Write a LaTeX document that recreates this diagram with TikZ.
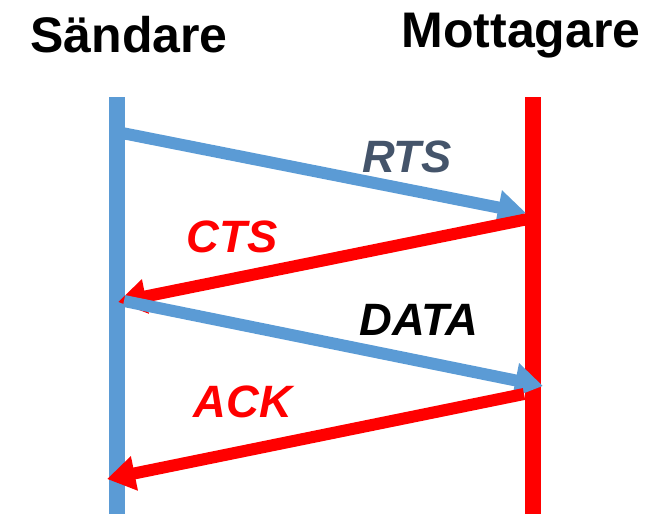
\documentclass[tikz,border=0pt]{standalone}
\usepackage{fontspec}
\setmainfont{Liberation Sans}
\usetikzlibrary{arrows.meta}

\definecolor{sendblue}{RGB}{91,155,213}
\definecolor{recvred}{RGB}{255,0,0}
\definecolor{rtsslate}{RGB}{68,84,106}

\tikzset{every picture/.style={line width=0.75pt}}
\tikzset{
  lifeline/.style={line width=11.5pt},
  msg/.style={line width=9pt, -{Triangle[length=21pt,width=25pt]}},
  title/.style={anchor=base, inner sep=0.75pt, font=\fontsize{37.5}{44}\selectfont\bfseries},
  msglabel/.style={anchor=base, inner sep=0.75pt, font=\fontsize{34}{40}\selectfont\bfseries\itshape}
}

\begin{document}
\begin{tikzpicture}[x=0.75pt,y=0.75pt,yscale=-1,xscale=1]
\path (0,0) rectangle (669,514); %diagram size

%Lifelines
\coordinate (sA) at (117,97);
\coordinate (sB) at (117,514);
\coordinate (mA) at (533,97);
\coordinate (mB) at (533,514);
\draw [lifeline, color=sendblue] (sA) -- (sB) ;
\draw [lifeline, color=recvred] (mA) -- (mB) ;

%Message end points
\coordinate (rts1) at (117,132);
\coordinate (rts2) at (526,213);
\coordinate (cts1) at (528,219);
\coordinate (cts2) at (118,302);
\coordinate (data1) at (124,301);
\coordinate (data2) at (543,386);
\coordinate (ack1) at (524,394);
\coordinate (ack2) at (107,479);

%Messages
\draw [msg, color=sendblue] (rts1) -- (rts2) ;
\draw [msg, color=recvred] (cts1) -- (cts2) ;
\draw [msg, color=sendblue] (data1) -- (data2) ;
\draw [msg, color=recvred] (ack1) -- (ack2) ;

% Text Node
\node [title] (sender) at (129,52) {Sändare};
% Text Node
\node [title] (receiver) at (521,47) {Mottagare};
% Text Node
\node [msglabel, color=rtsslate] (rts) at (407,172) {RTS};
% Text Node
\node [msglabel, color=recvred] (cts) at (232,252) {CTS};
% Text Node
\node [msglabel] (data) at (419,335) {DATA};
% Text Node
\node [msglabel, color=recvred] (ack) at (243,417) {ACK};

\end{tikzpicture}
\end{document}
